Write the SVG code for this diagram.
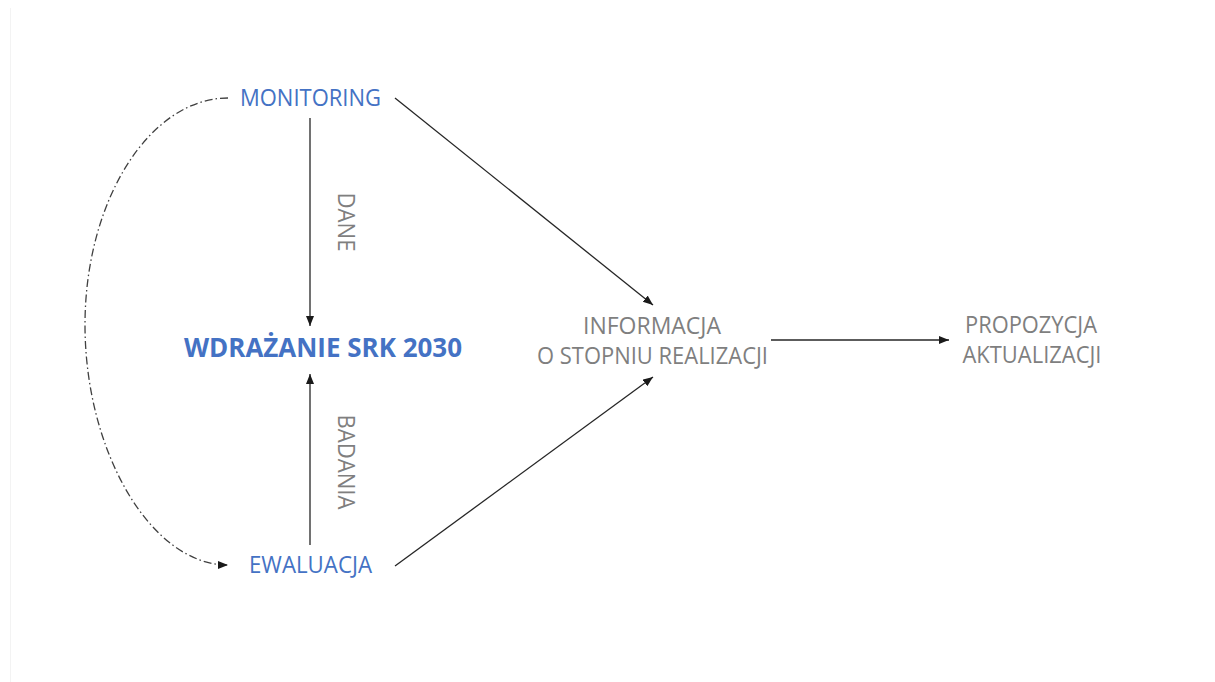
<svg xmlns="http://www.w3.org/2000/svg" width="1215" height="682" viewBox="0 0 1215 682">
<style>
.blue{font-family:"Open Sans","Liberation Sans",sans-serif;fill:#4472C4;font-size:23.5px}
.gray{font-family:"Open Sans","Liberation Sans",sans-serif;fill:#7F7F7F;font-size:23.5px}
.title{font-family:"Open Sans","Liberation Sans",sans-serif;fill:#4472C4;font-size:26.5px;font-weight:bold}
.ln{stroke:#262626;stroke-width:1.3;fill:none}
.dd{stroke:#404040;stroke-width:1.3;fill:none;stroke-dasharray:8 3 1.5 3}
</style>
<defs>
<marker id="ah" markerUnits="userSpaceOnUse" markerWidth="12" markerHeight="10" refX="10" refY="4" orient="auto">
<path d="M0,0 L10,4 L0,8 Z" fill="#1a1a1a"/>
</marker>
</defs>
<rect width="1215" height="682" fill="#ffffff"/>
<line x1="10.5" y1="8" x2="10.5" y2="682" stroke="#f3f3f3" stroke-width="1"/>
<g id="connectors">
<line class="ln" x1="310" y1="118" x2="310" y2="326" marker-end="url(#ah)"/>
<line class="ln" x1="310" y1="545" x2="310" y2="374" marker-end="url(#ah)"/>
<line class="ln" x1="395" y1="98" x2="653" y2="305" marker-end="url(#ah)"/>
<line class="ln" x1="395" y1="566" x2="653" y2="377" marker-end="url(#ah)"/>
<line class="ln" x1="771" y1="340" x2="949" y2="340" marker-end="url(#ah)"/>
<path class="dd" d="M228,98 C150,98 85,200 85,325 C85,450 150,565 228,565" marker-end="url(#ah)"/>
<text class="gray" transform="translate(338,222) rotate(90)" text-anchor="middle" textLength="59" lengthAdjust="spacingAndGlyphs">DANE</text>
<text class="gray" transform="translate(338,462) rotate(90)" text-anchor="middle" textLength="95" lengthAdjust="spacingAndGlyphs">BADANIA</text>
</g>
<g id="monitoring">
<text class="blue" x="310.5" y="106" text-anchor="middle" textLength="141" lengthAdjust="spacingAndGlyphs">MONITORING</text>
</g>
<g id="wdrazanie">
<text class="title" x="323" y="357" text-anchor="middle" textLength="278" lengthAdjust="spacingAndGlyphs">WDRAŻANIE SRK 2030</text>
</g>
<g id="ewaluacja">
<text class="blue" x="310.5" y="573" text-anchor="middle" textLength="123" lengthAdjust="spacingAndGlyphs">EWALUACJA</text>
</g>
<g id="informacja">
<text class="gray" x="652" y="334" text-anchor="middle" textLength="138" lengthAdjust="spacingAndGlyphs">INFORMACJA</text>
<text class="gray" x="652.5" y="364" text-anchor="middle" textLength="231" lengthAdjust="spacingAndGlyphs">O STOPNIU REALIZACJI</text>
</g>
<g id="propozycja">
<text class="gray" x="1031" y="333" text-anchor="middle" textLength="132" lengthAdjust="spacingAndGlyphs">PROPOZYCJA</text>
<text class="gray" x="1032" y="363" text-anchor="middle" textLength="139" lengthAdjust="spacingAndGlyphs">AKTUALIZACJI</text>
</g>
</svg>
